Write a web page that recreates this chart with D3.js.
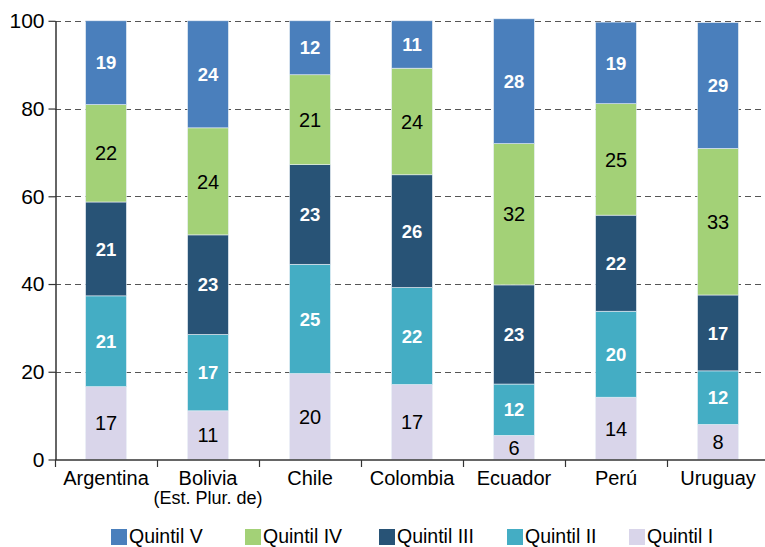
<!DOCTYPE html>
<html><head><meta charset="utf-8">
<script src="https://cdn.jsdelivr.net/npm/d3@7/dist/d3.min.js"></script>
<style>body{margin:0;background:#fff}svg{display:block;font-family:"Liberation Sans",Arial,sans-serif}</style>
</head><body><svg id="c" width="765" height="547"></svg>
<script>
const countries = ["Argentina", "Bolivia\n(Est. Plur. de)", "Chile", "Colombia", "Ecuador", "Perú", "Uruguay"];
const seriesNames = ["Quintil I", "Quintil II", "Quintil III", "Quintil IV", "Quintil V"];
const quintilI   = [16.6, 11.1, 19.6, 17.1, 5.5, 14.2, 8.0];
const quintilII  = [20.7, 17.4, 24.9, 22.1, 11.7, 19.6, 12.2];
const quintilIII = [21.4, 22.7, 22.7, 25.7, 22.6, 21.9, 17.3];
const quintilIV  = [22.2, 24.4, 20.5, 24.3, 32.2, 25.4, 33.4];
const quintilV   = [19.1, 24.4, 12.3, 10.8, 28.45, 18.6, 28.7];
const yTicks = [0, 20, 40, 60, 80, 100];
const colors = ["#d9d5ea", "#44adc4", "#285376", "#a3d177", "#4a7fbc"];
const labelColors = ["#000", "#fff", "#fff", "#000", "#fff"];
const labelWeights = ["normal", "bold", "bold", "normal", "bold"];
const legendOrder = [4, 3, 2, 1, 0];

const seriesVals = [quintilI, quintilII, quintilIII, quintilIV, quintilV];
const data = countries.map((c, i) => {
  const o = {country: c};
  seriesNames.forEach((s, j) => o[s] = seriesVals[j][i]);
  return o;
});
const stacked = d3.stack().keys(seriesNames)(data);

const svg = d3.select("#c");
const x = d3.scaleBand().domain(countries).range([55, 769]).paddingInner(0.6).paddingOuter(0.3);
const y = d3.scaleLinear().domain([0, 100]).range([459.5, 20.8]);

// grid
svg.append("g").selectAll("line").data(yTicks.filter(t => t > 0)).join("line")
  .attr("x1", 55).attr("x2", 765).attr("y1", d => Math.round(y(d)) + 0.5).attr("y2", d => Math.round(y(d)) + 0.5)
  .attr("stroke", "#555").attr("stroke-width", 1).attr("stroke-dasharray", "6,4");

// bars
const g = svg.append("g");
stacked.forEach((layer, j) => {
  g.append("g").selectAll("rect").data(layer).join("rect")
    .attr("x", d => x(d.data.country))
    .attr("width", x.bandwidth())
    .attr("y", d => y(d[1]))
    .attr("height", d => y(d[0]) - y(d[1]))
    .attr("fill", colors[j])
    .attr("stroke", "#e8eef6").attr("stroke-width", 0.6);
  g.append("g").selectAll("text").data(layer).join("text")
    .attr("x", d => x(d.data.country) + x.bandwidth() / 2)
    .attr("y", d => (y(d[0]) + y(d[1])) / 2)
    .attr("dy", "0.36em")
    .attr("text-anchor", "middle")
    .attr("font-size", labelWeights[j] === "bold" ? 18.5 : 20)
    .attr("font-weight", labelWeights[j])
    .attr("fill", labelColors[j])
    .text(d => Math.round(d[1] - d[0]));
});

// y axis
const yAxis = svg.append("g").attr("transform", "translate(55.5,0)")
  .call(d3.axisLeft(y).tickValues(yTicks).tickSize(7).tickSizeOuter(0));
yAxis.select(".domain").attr("stroke", "#333").attr("stroke-width", 1.5);
yAxis.selectAll(".tick line").attr("stroke", "#333").attr("stroke-width", 1.2);
yAxis.selectAll(".tick text").attr("font-size", 21).attr("fill", "#000").attr("font-family", "Liberation Sans, Arial, sans-serif").attr("x", -11);

// x axis
const xg = svg.append("g").attr("transform", "translate(0,460)");
xg.append("line").attr("x1", 55).attr("x2", 765).attr("y1", 0).attr("y2", 0).attr("stroke", "#333").attr("stroke-width", 1.5);
const step = x.step();
xg.selectAll("line.t").data(d3.range(countries.length)).join("line").attr("class", "t")
  .attr("x1", i => 55.5 + i * step).attr("x2", i => 55.5 + i * step)
  .attr("y1", 0).attr("y2", 7).attr("stroke", "#333").attr("stroke-width", 1.2);
xg.selectAll("text").data(countries).join("text")
  .attr("text-anchor", "middle")
  .attr("fill", "#000")
  .attr("transform", d => `translate(${x(d) + x.bandwidth() / 2},25)`)
  .each(function(d) {
    const lines = d.split("\n");
    d3.select(this).selectAll("tspan").data(lines).join("tspan")
      .attr("x", 0).attr("dy", (l, k) => k === 0 ? 0 : 19)
      .attr("font-size", (l, k) => k === 0 ? 20 : 18)
      .text(l => l);
  });

// legend
const legX = [111, 245, 379, 507, 629];
const leg = svg.append("g");
legendOrder.forEach((j, k) => {
  leg.append("rect").attr("x", legX[k]).attr("y", 529).attr("width", 16).attr("height", 16).attr("fill", colors[j]);
  leg.append("text").attr("x", legX[k] + 18).attr("y", 543).attr("font-size", 19.5).attr("fill", "#000").text(seriesNames[j]);
});
</script></body></html>
